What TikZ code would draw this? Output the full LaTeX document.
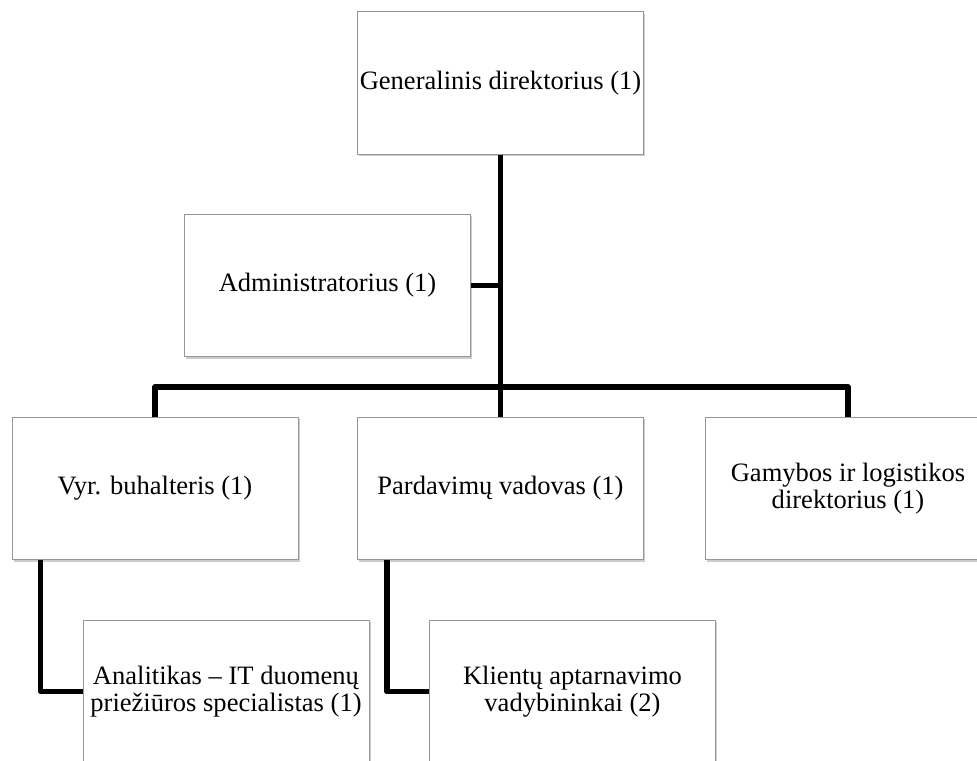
\documentclass[tikz,border=0pt]{standalone}
\usepackage{fontspec}
\setmainfont{Liberation Serif}
\usepackage{tikz}
\usetikzlibrary{arrows,calc,shadows}

\tikzset{
  orgbox/.style={draw={rgb, 255:red, 150; green, 150; blue, 150 }, line width=0.75pt, fill=white,
    minimum width=214.5pt, minimum height=107pt, inner sep=0.75pt, align=center,
    font=\fontsize{19.9pt}{20.5pt}\selectfont,
    drop shadow={shadow xshift=1.2pt, shadow yshift=-1.5pt, opacity=0.2, fill=black}},
  orglink/.style={line width=4.3pt, line join=round, color={rgb, 255:red, 0; green, 0; blue, 0 }}
}

\begin{document}
\begin{tikzpicture}[x=0.75pt,y=0.75pt,yscale=-1,xscale=1]
\useasboundingbox (0,0) rectangle (977,760);

% Text Node
\draw (500.5,83) node [orgbox] (gen) {Generalinis direktorius (1)};
% Text Node
\draw (327.5,285.5) node [orgbox] (admin) {Administratorius (1)};
% Text Node
\draw (155,488.5) node [orgbox] (vyr) {Vyr. buhalteris (1)};
% Text Node
\draw (500.5,488.5) node [orgbox] (pard) {Pardavimų vadovas (1)};
% Text Node
\draw (848,488.5) node [orgbox] (gam) {Gamybos ir logistikos\\direktorius (1)};
% Text Node
\draw (226,691.5) node [orgbox] (anal) {Analitikas – IT duomenų\\priežiūros specialistas (1)};
% Text Node
\draw (572.5,691.5) node [orgbox] (klient) {Klientų aptarnavimo\\vadybininkai (2)};

%Straight Lines
\coordinate (bus) at (500.5,387);
\draw [orglink] (gen) -- (pard);
%Straight Lines
\draw [orglink] (admin.east) -- (admin.east -| gen.south);
%Straight Lines
\draw [orglink] (vyr.north) |- (bus) -| (gam.north);
%Straight Lines
\draw [orglink] ([xshift=21.75pt]vyr.south west) |- (anal.west);
%Straight Lines
\draw [orglink] ([xshift=22.5pt]pard.south west) |- (klient.west);

\end{tikzpicture}
\end{document}
